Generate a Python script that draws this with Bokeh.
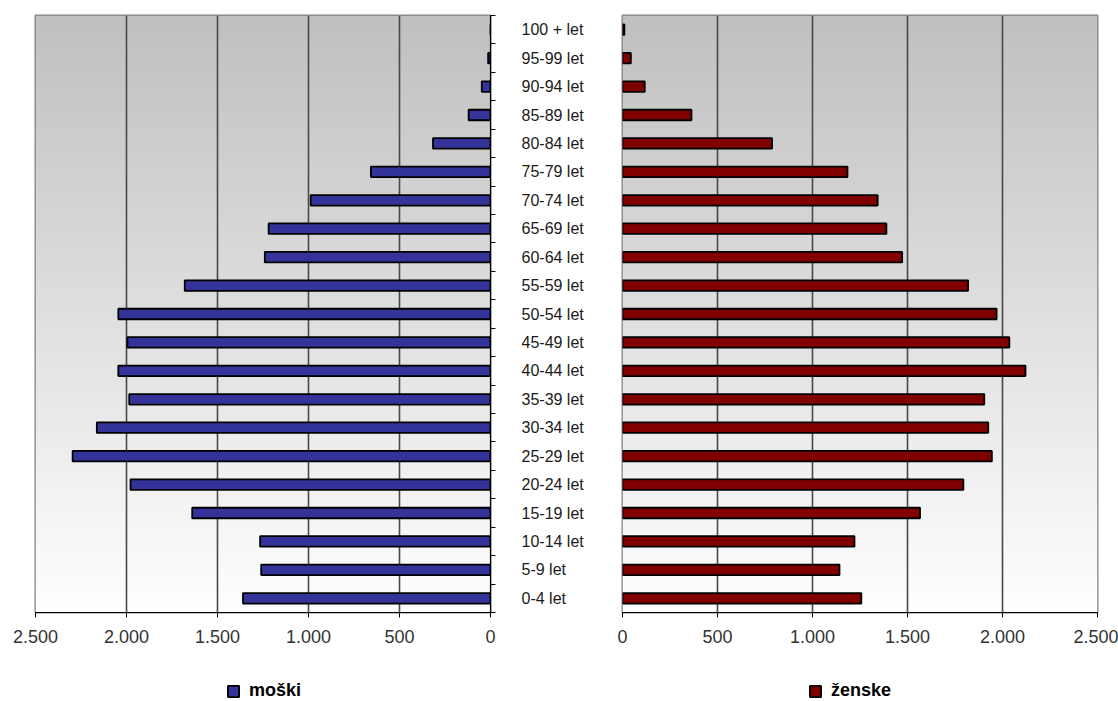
import numpy as np
from bokeh.plotting import figure
from bokeh.models import (ColumnDataSource, Range1d, FixedTicker, Legend, LegendItem)
from bokeh.layouts import row, column
from bokeh.embed import file_html
from bokeh.resources import INLINE

# ---------------- data ----------------
categories = ["0-4 let", "5-9 let", "10-14 let", "15-19 let", "20-24 let",
              "25-29 let", "30-34 let", "35-39 let", "40-44 let", "45-49 let",
              "50-54 let", "55-59 let", "60-64 let", "65-69 let", "70-74 let",
              "75-79 let", "80-84 let", "85-89 let", "90-94 let", "95-99 let",
              "100 + let"]
male = [1360, 1260, 1266, 1639, 1978, 2296, 2163, 1985, 2045, 1995, 2045,
        1680, 1240, 1219, 988, 657, 316, 120, 48, 13, 0]
female = [1257, 1142, 1221, 1566, 1794, 1944, 1925, 1904, 2121, 2036, 1969,
          1819, 1472, 1389, 1343, 1184, 787, 363, 117, 44, 10]
x_ticks = [0, 500, 1000, 1500, 2000, 2500]
x_tick_labels = ["0", "500", "1.000", "1.500", "2.000", "2.500"]
series_names = ["moški", "ženske"]

MALE_COLOR = "#333399"
FEMALE_COLOR = "#800000"
FONT = "Liberation Sans"

idx = list(range(len(categories)))
xmax = max(x_ticks)

# vertical gradient (white at bottom -> light grey at top)
n = 300
shade = np.linspace(255, 192, n).astype(np.uint8)
img = np.zeros((n, 1), dtype=np.uint32)
view = img.view(dtype=np.uint8).reshape((n, 1, 4))
view[:, 0, 0] = shade
view[:, 0, 1] = shade
view[:, 0, 2] = shade
view[:, 0, 3] = 255


def make_fig(reverse, border_left, border_right):
    xr = Range1d(-xmax, 0) if reverse else Range1d(0, xmax)
    p = figure(frame_width=455 if reverse else 475, frame_height=597,
               x_range=xr, y_range=Range1d(-0.5, len(categories) - 0.5),
               min_border_left=border_left, min_border_right=border_right,
               min_border_top=15, min_border_bottom=40,
               y_axis_location="right" if reverse else None,
               output_backend="svg", toolbar_location=None,
               background_fill_color="white", border_fill_color="white")
    p.outline_line_color = "#808080"
    p.outline_line_width = 2
    sign = -1 if reverse else 1
    p.image_rgba(image=[img], x=-xmax if reverse else 0, y=-0.5,
                 dw=xmax, dh=len(categories), level="image")
    # x axis
    ax = p.xaxis[0]
    ax.ticker = FixedTicker(ticks=[sign * t for t in x_ticks])
    ax.major_label_overrides = {sign * t: l for t, l in zip(x_ticks, x_tick_labels)}
    ax.axis_line_color = "black"
    ax.axis_line_width = 1.2
    ax.major_tick_line_color = "black"
    ax.major_tick_out = 5
    ax.major_tick_in = 0
    ax.minor_tick_line_color = None
    ax.major_label_standoff = 12
    ax.major_label_text_font = FONT
    ax.major_label_text_font_size = "18px"
    ax.major_label_text_color = "#333333"
    # grid
    p.xgrid.ticker = FixedTicker(ticks=[sign * t for t in x_ticks[1:-1]])
    p.xgrid.grid_line_color = "#484848"
    p.xgrid.grid_line_width = 1.6
    p.ygrid.grid_line_color = None
    return p


left = make_fig(True, 35, 110)
right = make_fig(False, 22, 21)

src_m = ColumnDataSource(dict(y=idx, left=[-v for v in male], right=[0] * len(male)))
src_f = ColumnDataSource(dict(y=idx, left=[0] * len(female), right=female))

bar_style = dict(height=0.37, line_color="black", line_width=1.8)
left.hbar(y="y", left="left", right="right", source=src_m,
          fill_color=MALE_COLOR, **bar_style)
right.hbar(y="y", left="left", right="right", source=src_f,
           fill_color=FEMALE_COLOR, **bar_style)

# category axis (between the two plots)
yax = left.yaxis[0]
yax.ticker = FixedTicker(ticks=idx, minor_ticks=[i - 0.5 for i in range(len(categories) + 1)])
yax.major_label_overrides = {i: c for i, c in zip(idx, categories)}
yax.axis_line_color = "black"
yax.axis_line_width = 1.2
yax.major_tick_line_color = None
yax.major_tick_out = 0
yax.major_tick_in = 0
yax.minor_tick_line_color = "black"
yax.minor_tick_out = 5
yax.minor_tick_in = 0
yax.major_label_standoff = 26
yax.major_label_text_font = FONT
yax.major_label_text_font_size = "16px"
yax.major_label_text_color = "#1a1a1a"

# ---------------- legend strip ----------------
# hidden copies of the two series supply the legend swatches
leg_fig = figure(width=1118, height=49, x_range=Range1d(-xmax, xmax),
                 y_range=Range1d(-0.5, len(categories) - 0.5),
                 min_border=0, x_axis_location=None, y_axis_location=None,
                 output_backend="svg", toolbar_location=None,
                 background_fill_color="white", border_fill_color="white")
leg_fig.outline_line_color = None
leg_fig.grid.visible = False
lm = leg_fig.hbar(y="y", left="left", right="right", source=src_m,
                  fill_color=MALE_COLOR, **bar_style)
lf = leg_fig.hbar(y="y", left="left", right="right", source=src_f,
                  fill_color=FEMALE_COLOR, **bar_style)
lm.visible = False
lf.visible = False

for name, rend, x in [(series_names[0], lm, 226), (series_names[1], lf, 808)]:
    leg = Legend(items=[LegendItem(label=name, renderers=[rend])],
                 location=(x, 0), orientation="horizontal",
                 padding=0, margin=0, border_line_color=None,
                 background_fill_alpha=0, click_policy="none",
                 label_text_font=FONT, label_text_font_style="bold",
                 label_text_font_size="18px", label_text_color="black",
                 glyph_width=14, glyph_height=14, label_standoff=9)
    leg_fig.add_layout(leg)

layout = column(row(left, right), leg_fig)
open("out.html", "w").write(file_html(layout, INLINE))
